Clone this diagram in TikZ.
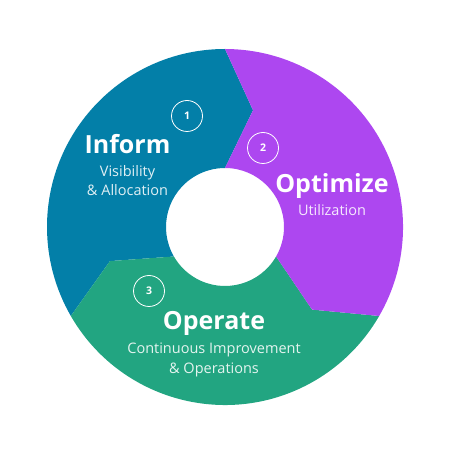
\documentclass[tikz,border=0pt]{standalone}
\usepackage{fontspec}
\setmainfont{Open Sans}
\usetikzlibrary{positioning,calc}
\definecolor{informblue}{HTML}{037FA8}
\definecolor{optimizepurple}{HTML}{AD47F0}
\definecolor{operategreen}{HTML}{22A581}
\tikzset{
  titletext/.style={text=white, anchor=base, font=\bfseries\fontsize{25}{30}\selectfont},
  subtext/.style={text=white, text opacity=0.88, anchor=base, font=\fontsize{14.5}{18}\selectfont},
  stepnum/.style={circle, draw=white, line width=0.8pt, minimum size=31pt, inner sep=0pt,
    text=white, font=\bfseries\fontsize{10.5}{12}\selectfont}
}
\begin{document}
\begin{tikzpicture}[x=1pt,y=1pt]
    \useasboundingbox (0,0) rectangle (450,450);
    % ring of three chevron segments
    \begin{scope}[shift={(225,223)}]
      \foreach \a/\col in {90/informblue, 210/operategreen, -30/optimizepurple}
        \fill[\col] (\a:178) arc[start angle=\a, delta angle=120, radius=178]
          -- ({\a+106.5}:120) -- ({\a+120}:59)
          arc[start angle=\a+120, delta angle=-120, radius=59]
          -- ({\a-13.5}:120) -- cycle;
    \end{scope}
    % labels
    \node[titletext] (inform) at (127.5,296.7) {Inform};
    \node[subtext] (informsub) at (127.5,273.3) {Visibility};
    \node[subtext] (informsubb) at (127.5,254) {\& Allocation};
    \node[titletext] (optimize) at (332,257.3) {Optimize};
    \node[subtext] (optimizesub) at (332,234) {Utilization};
    \node[titletext] (operate) at (214,120) {Operate};
    \node[subtext] (operatesub) at (214,96) {Continuous Improvement};
    \node[subtext] (operatesubb) at (214,76.7) {\& Operations};
    % step numbers
    \node[stepnum] (one) at (187,334) {1};
    \node[stepnum] (two) at (263,302) {2};
    \node[stepnum] (three) at (149,159) {3};
  \end{tikzpicture}
\end{document}
